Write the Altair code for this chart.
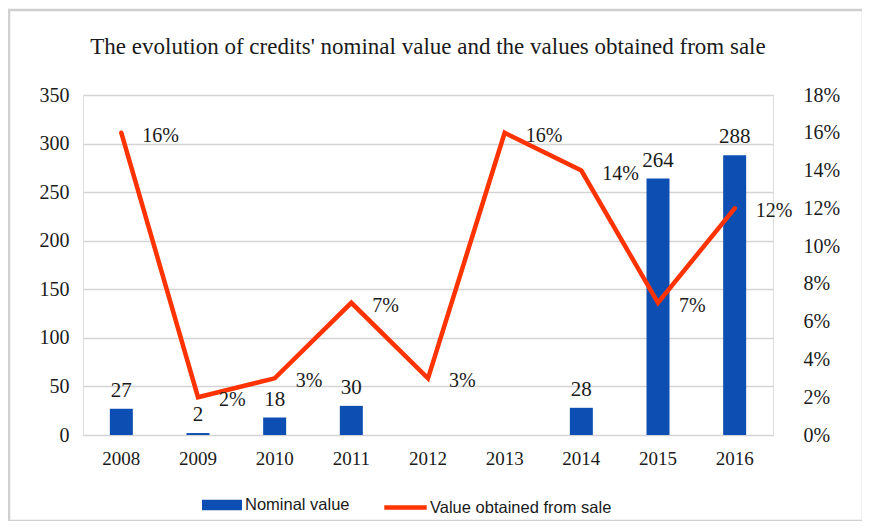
import altair as alt
import pandas as pd

years = ["2008", "2009", "2010", "2011", "2012", "2013", "2014", "2015", "2016"]
nominal = [27, 2, 18, 30, None, None, 28, 264, 288]
sale_pct = [0.16, 0.02, 0.03, 0.07, 0.03, 0.16, 0.14, 0.07, 0.12]

BLUE = "#0D4EB3"
RED = "#FF3300"
SERIF = "Liberation Serif"
SANS = "Liberation Sans"

df = pd.DataFrame({"year": years, "nominal": nominal, "pct": sale_pct})

base = alt.Chart(df)
x = alt.X("year:N", sort=years, title=None,
          scale=alt.Scale(paddingInner=0, paddingOuter=0),
          axis=alt.Axis(labelAngle=0, domain=False, ticks=False, labelFont=SERIF,
                        labelFontSize=19, labelColor="#1a1a1a", labelPadding=14))

axis_left = alt.Axis(values=list(range(0, 351, 50)), domain=False, ticks=False,
                     labelFont=SERIF, labelFontSize=20, labelColor="#1a1a1a",
                     labelPadding=14, gridColor="#d4d4d4", gridWidth=1.5)
y_left = alt.Y("nominal:Q", title=None, scale=alt.Scale(domain=[0, 350], nice=False),
               axis=axis_left)

axis_right = alt.Axis(orient="right", values=[i / 100 for i in range(0, 19, 2)],
                      format=".0%", domain=False, ticks=False, grid=False,
                      labelFont=SERIF, labelFontSize=20, labelColor="#1a1a1a",
                      labelPadding=30)
y_right = alt.Y("pct:Q", title=None, scale=alt.Scale(domain=[0, 0.18], nice=False),
                axis=axis_right)

bars = base.transform_filter("datum.nominal != null").transform_calculate(
    series="'Nominal value'"
).mark_bar(size=23).encode(
    x=x, y=y_left,
    fill=alt.Fill("series:N", scale=alt.Scale(range=[BLUE]),
                  legend=alt.Legend(title=None, orient="none", legendX=119, legendY=390,
                                    symbolType="M-1,-0.26H1V0.26H-1Z", symbolSize=1600,
                                    symbolStrokeWidth=0, labelFont=SANS, labelFontSize=16.5,
                                    labelColor="#1a1a1a", labelOffset=3, padding=0,
                                    labelLimit=300)),
)
bar_text = base.transform_filter("datum.nominal != null").mark_text(
    baseline="bottom", dy=-8, font=SERIF, fontSize=21, color="#1a1a1a"
).encode(x=x, y=y_left, text=alt.Text("nominal:Q"))

left = alt.layer(bars, bar_text)

line = base.transform_calculate(series="'Value obtained from sale'").mark_line(
    strokeWidth=4.5, strokeCap="round", strokeJoin="miter"
).encode(
    x=x, y=y_right,
    stroke=alt.Stroke("series:N", scale=alt.Scale(range=[RED]),
                      legend=alt.Legend(title=None, orient="none", legendX=299, legendY=389,
                                        symbolType="stroke", symbolSize=1800,
                                        symbolStrokeWidth=4.5, labelFont=SANS,
                                        labelFontSize=16.5, labelColor="#1a1a1a",
                                        labelOffset=1, padding=0, labelLimit=400)),
)
line_text = base.mark_text(
    align="left", baseline="middle", dx=21, dy=3, font=SERIF, fontSize=20, color="#1a1a1a"
).encode(x=x, y=y_right, text=alt.Text("pct:Q", format=".0%"))

right = alt.layer(line, line_text)

border = alt.Chart(pd.DataFrame({"a": [0]})).mark_rect(
    fill="transparent", stroke="#d0d0d0", strokeWidth=2.5
).encode(x=alt.value(-74), x2=alt.value(780), y=alt.value(-85), y2=alt.value(426))

chart = alt.layer(border, left, right).resolve_scale(
    y="independent", fill="independent", stroke="independent"
).properties(
    width=690, height=340,
    padding={"left": 75, "top": 87, "right": 89, "bottom": 86},
    autosize=alt.AutoSizeParams(type="none"),
    title=alt.TitleParams(
        "The evolution of credits' nominal value and the values obtained from  sale",
        font=SERIF, fontSize=23, fontWeight="normal", color="#1a1a1a",
        anchor="middle", offset=-50),
).configure_view(stroke=None).configure(background="white")

chart.save("out.html", embed_options={"renderer": "svg", "actions": False})
